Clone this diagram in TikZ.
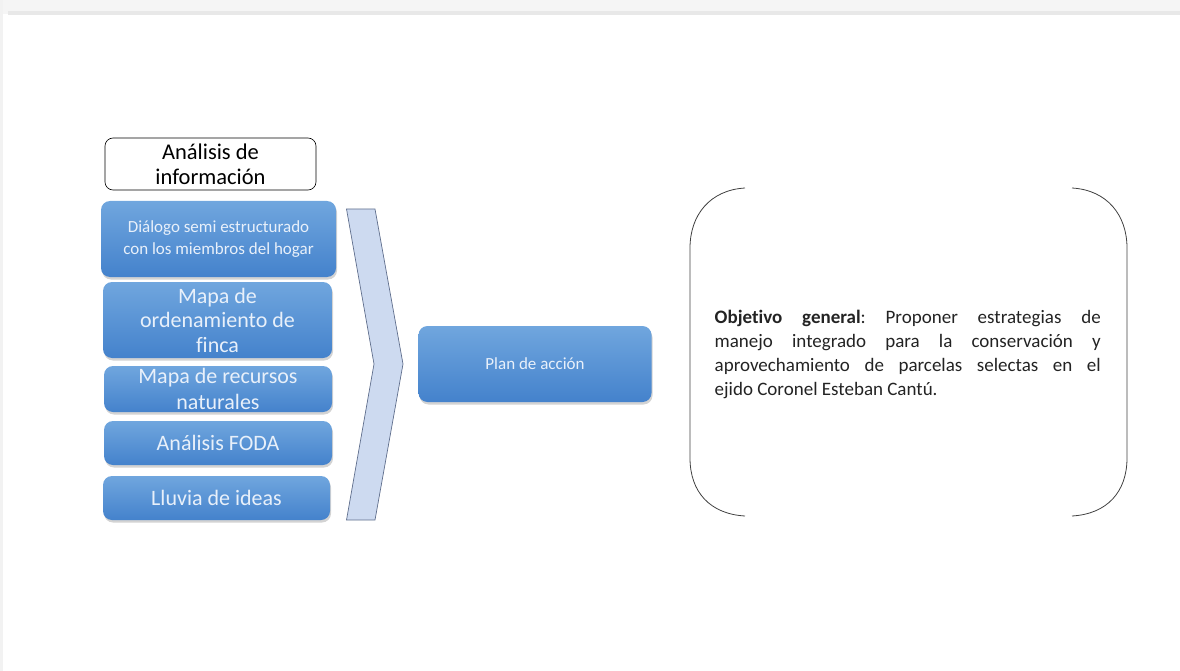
\documentclass[tikz,border=0pt]{standalone}
\usepackage{fontspec}
\setmainfont{Carlito}[RawFeature=-liga]
\usetikzlibrary{shadows}
\definecolor{bluetop}{RGB}{112,166,222}
\definecolor{bluebot}{RGB}{68,130,204}
\definecolor{bluetext}{RGB}{232,240,250}
\definecolor{chevfill}{RGB}{205,218,240}
\definecolor{chevdraw}{RGB}{95,110,140}
\definecolor{bodytext}{RGB}{35,35,35}
\tikzset{
  bluebox/.style={rounded corners=9pt, top color=bluetop, bottom color=bluebot,
    text=bluetext, align=center, inner sep=0pt,
    drop shadow={opacity=0.35, shadow xshift=1pt, shadow yshift=-2.5pt}},
  headbox/.style={rounded corners=8pt, draw=black, line width=0.6pt, fill=white,
    align=center, inner sep=0pt},
  bracketline/.style={draw=black!75, line width=0.8pt}
}
\begin{document}
\begin{tikzpicture}[x=1pt,y=-1pt]
\useasboundingbox (0,0) rectangle (1180,671);
% top grey band (screenshot frame)
\fill[black!4] (0,0) rectangle (1180,14);
\fill[black!9] (8,11) rectangle (1180,15);
\fill[black!5] (0,0) rectangle (3,671);
% header
\node[headbox, minimum width=211pt, minimum height=52pt,
  font=\fontsize{22.5}{25}\selectfont] (head) at (210.5,164) {Análisis de\\información};
% blue boxes
\node[bluebox, minimum width=235pt, minimum height=76pt,
  font=\fontsize{17}{22}\selectfont] (dialogo) at (218.5,239)
  {Diálogo semi estructurado\\con los miembros del hogar};
\node[bluebox, minimum width=229pt, minimum height=76pt,
  font=\fontsize{22}{24.5}\selectfont] (ordenamiento) at (217.5,320)
  {Mapa de\\ordenamiento de\\finca};
\node[bluebox, minimum width=228pt, minimum height=46pt,
  font=\fontsize{22}{26}\selectfont] (recursos) at (218,389)
  {Mapa de recursos\\naturales};
\node[bluebox, minimum width=228pt, minimum height=44pt,
  font=\fontsize{22}{24}\selectfont] (foda) at (218,443) {Análisis FODA};
\node[bluebox, minimum width=227pt, minimum height=44pt,
  font=\fontsize{22}{24}\selectfont] (lluvia) at (216.5,498) {Lluvia de ideas};
% chevron
\draw[fill=chevfill, draw=chevdraw, line width=0.7pt]
  (346.5,209) -- (375,209) -- (403,364) -- (375,520) -- (346.5,520) -- (374,364) -- cycle;
% plan de accion
\node[bluebox, minimum width=233pt, minimum height=76pt,
  font=\fontsize{17}{20}\selectfont] (plan) at (535,364) {Plan de acción};
% brackets
\draw[bracketline] (745,188) .. controls (710,190) and (690,215) .. (690,248)
  -- (690,458) .. controls (690,492) and (710,514) .. (745,516);
\draw[bracketline] (1072,188) .. controls (1107,190) and (1127,215) .. (1127,248)
  -- (1127,458) .. controls (1127,492) and (1107,514) .. (1072,516);
\node[text width=386pt, align=justify, inner sep=0pt, text=bodytext,
  font=\fontsize{19}{24}\selectfont\frenchspacing, anchor=north west] (objetivo) at (714.5,310)
  {\textbf{Objetivo general}: Proponer estrategias de\linebreak
   manejo integrado para la conservación y\linebreak
   aprovechamiento de parcelas selectas en el\linebreak
   ejido Coronel Esteban Cantú.};
\end{tikzpicture}
\end{document}
